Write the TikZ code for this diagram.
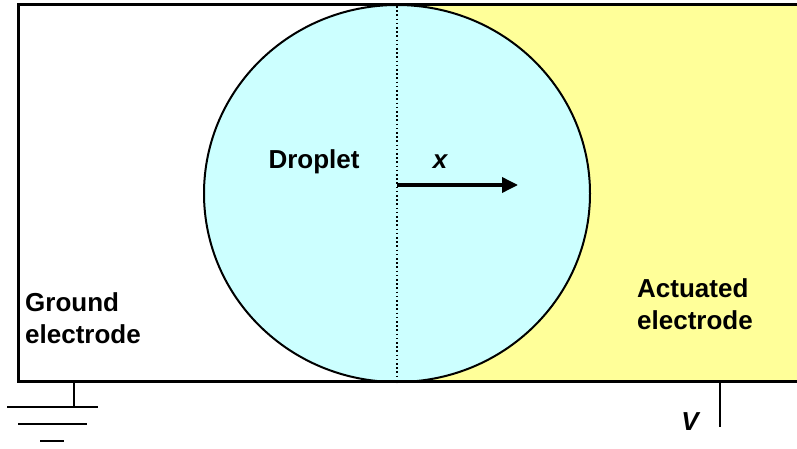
\documentclass[tikz,border=0pt]{standalone}
\usepackage{fontspec}
\setmainfont{Liberation Sans}
\usetikzlibrary{arrows.meta,shapes.geometric}
\definecolor{dropcol}{HTML}{CCFFFF}
\definecolor{elecol}{HTML}{FFFF99}
\begin{document}
\begin{tikzpicture}[x=1pt,y=-1pt,
  lbl/.style={font=\fontsize{26}{32}\selectfont\bfseries, inner sep=0pt, align=left},
  wire/.style={line width=1.5pt, black}]
\useasboundingbox (0,0) rectangle (797,449);
% yellow actuated electrode
\fill[elecol] (397,4.5) rectangle (797,381.5);
% droplet
\node[draw=black, line width=2pt, fill=dropcol, ellipse, minimum width=386pt, minimum height=377pt, inner sep=0pt] (drop) at (397,193.5) {};
% dotted center line
\draw[line width=1.6pt, dash pattern=on 1.6pt off 2.6pt] (397,6) -- (397,381);
% frame
\draw[line width=3.5pt, line join=miter] (800,4.5) -- (18.5,4.5) -- (18.5,381.5) -- (800,381.5);
% arrow
\coordinate (a0) at (397,185);
\coordinate (a1) at (518,185);
\draw[line width=3.5pt, -{Triangle[length=16pt,width=15pt]}] (a0) -- (a1);
% labels
\node[lbl] (droplet) at (314,162) {Droplet};
\node[lbl] (xl) at (440,162) {\itshape x};
\node[lbl, anchor=west] (ground) at (25,318) {Ground\\electrode};
\node[lbl, anchor=west] (act) at (637,304) {Actuated\\electrode};
\node[lbl] (vl) at (690,422) {\itshape V};
% ground symbol
\coordinate (g0) at (74,383);
\coordinate (g1) at (74,407);
\draw[wire] (g0) -- (g1);
\draw[wire] (7,407) -- (98,407);
\draw[wire] (18,424) -- (87,424);
\draw[wire] (40,441) -- (64,441);
% V lead
\coordinate (v0) at (720,383);
\coordinate (v1) at (720,427);
\draw[wire] (v0) -- (v1);
\end{tikzpicture}
\end{document}
